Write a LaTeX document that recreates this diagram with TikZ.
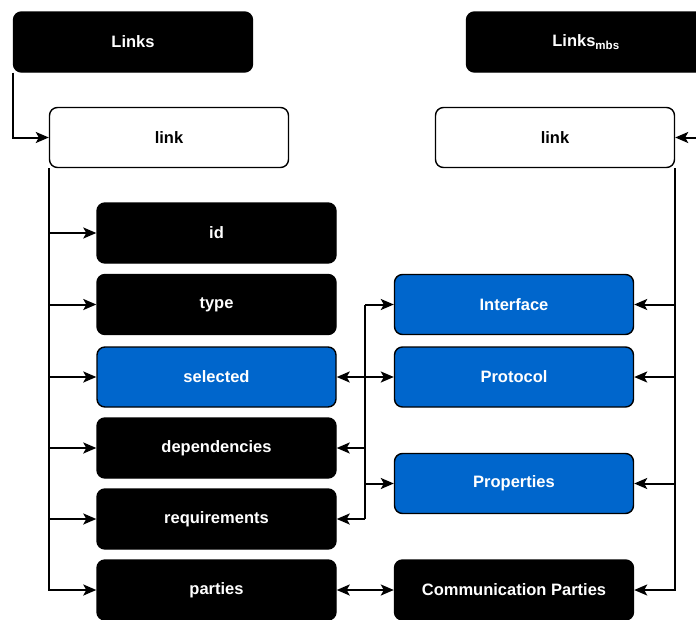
\documentclass[tikz,border=0pt]{standalone}
\usepackage{fontspec}
\setmainfont{Liberation Sans}
\usetikzlibrary{arrows.meta}
\definecolor{blueA}{HTML}{0066CC}
\tikzset{
	>={Stealth[length=13pt,width=11pt,inset=3pt]},
	box/.style={rounded corners=8pt, draw=black, line width=1.4pt, minimum width=239pt, minimum height=60pt, font=\fontsize{16.5}{20}\selectfont\bfseries, inner sep=0pt},
	blk/.style={box, fill=black, text=white},
	blu/.style={box, fill=blueA, text=white},
	wht/.style={box, fill=white, text=black},
	conn/.style={line width=2pt}
}
\begin{document}
\begin{tikzpicture}[x=1pt, y=-1pt]
		\clip (0,0) rectangle (696,619);
		\useasboundingbox (0,0) rectangle (696,619);
		\node[blk] (Links) at (133,42) {Links};
		\node[blk] (LinksMbs) at (586,42) {Links\textsubscript{mbs}};
		\node[wht] (linkL) at (169,137.5) {link};
		\node[wht] (linkR) at (555,137.5) {link};
		\node[blk] (id) at (216.5,233) {id};
		\node[blk] (type) at (216.5,304.5) {type};
		\node[blu] (selected) at (216.5,377) {selected};
		\node[blk] (dependencies) at (216.5,448) {dependencies};
		\node[blk] (requirements) at (216.5,519) {requirements};
		\node[blk] (parties) at (216.5,590) {parties};
		\node[blu] (interface) at (514,304.5) {Interface};
		\node[blu] (protocol) at (514,377) {Protocol};
		\node[blu] (properties) at (514,483.5) {Properties};
		\node[blk] (commParties) at (514,590) {Communication Parties};
		\coordinate (bus) at (365,0);
		\draw[conn,->] (Links.south west) |- (linkL.west);
		\draw[conn,->] (LinksMbs.south east) |- (linkR.east);
		\foreach \n in {id,type,selected,dependencies,requirements,parties}
			\draw[conn,->] (linkL.south west) |- (\n.west);
		\foreach \n in {interface,protocol,properties,commParties}
			\draw[conn,->] (linkR.south east) |- (\n.east);
		\draw[conn] (bus |- interface) -- (bus |- requirements);
		\draw[conn,->] (bus |- interface) -- (interface.west);
		\draw[conn,->] (bus |- properties) -- (properties.west);
		\draw[conn,->] (bus |- dependencies) -- (dependencies.east);
		\draw[conn,->] (bus |- requirements) -- (requirements.east);
		\draw[conn,<->] (selected.east) -- (protocol.west);
		\draw[conn,<->] (parties.east) -- (commParties.west);
\end{tikzpicture}
\end{document}
